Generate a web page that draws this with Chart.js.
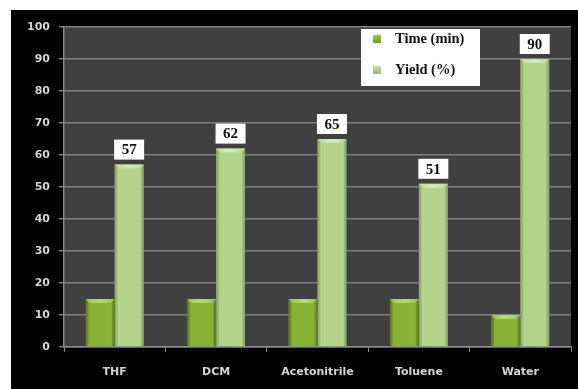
<!DOCTYPE html>
<html>
<head>
<meta charset="utf-8">
<script src="https://cdn.jsdelivr.net/npm/chart.js@4/dist/chart.umd.min.js"></script>
<style>
  html, body { margin: 0; padding: 0; background: #ffffff; }
  #wrap { width: 578px; height: 389px; position: relative; }
</style>
</head>
<body>
<div id="wrap"><canvas id="c" width="578" height="389"></canvas></div>
<script>
// Solvent screening results
const solvents = ['THF', 'DCM', 'Acetonitrile', 'Toluene', 'Water'];
const timeMin = [15, 15, 15, 15, 10];
const yieldPct = [57, 62, 65, 51, 90];
const yTicks = [0, 10, 20, 30, 40, 50, 60, 70, 80, 90, 100];

// Page frame: white margin, black panel, dark grey plot area
const framePlugin = {
  id: 'frame',
  beforeDraw(chart) {
    const { ctx, width, height, chartArea } = chart;
    ctx.save();
    ctx.fillStyle = '#ffffff';
    ctx.fillRect(0, 0, width, height);
    ctx.fillStyle = '#000000';
    ctx.fillRect(11, 10, width - 11, height - 10);
    ctx.fillStyle = '#404040';
    ctx.fillRect(chartArea.left, chartArea.top, chartArea.right - chartArea.left, chartArea.bottom - chartArea.top);
    ctx.restore();
  }
};

// Side shading and a bevelled top on every bar
const shadePlugin = {
  id: 'shade',
  afterDatasetsDraw(chart) {
    const { ctx } = chart;
    const looks = [
      { edge: 'rgba(60,80,10,0.55)', top: '#b9dc6a', topEdge: '#9cc24a' },
      { edge: 'rgba(90,110,60,0.40)', top: '#d6eab8', topEdge: '#c0da9c' }
    ];
    chart.data.datasets.forEach((ds, di) => {
      const meta = chart.getDatasetMeta(di);
      const lk = looks[di];
      meta.data.forEach((bar) => {
        const x0 = bar.x - bar.width / 2, x1 = bar.x + bar.width / 2;
        const y0 = bar.y, y1 = bar.base;
        ctx.save();
        const g = ctx.createLinearGradient(x0, 0, x1, 0);
        g.addColorStop(0, lk.edge);
        g.addColorStop(0.12, 'rgba(0,0,0,0)');
        g.addColorStop(0.88, 'rgba(0,0,0,0)');
        g.addColorStop(1, lk.edge);
        ctx.fillStyle = g;
        ctx.fillRect(x0, y0, x1 - x0, y1 - y0);
        const b = 4;
        ctx.beginPath();
        ctx.moveTo(x0, y0);
        ctx.lineTo(x1, y0);
        ctx.lineTo(x1 - b, y0 + b);
        ctx.lineTo(x0 + b, y0 + b);
        ctx.closePath();
        const tg = ctx.createLinearGradient(x0, 0, x1, 0);
        tg.addColorStop(0, lk.topEdge);
        tg.addColorStop(0.5, lk.top);
        tg.addColorStop(1, lk.topEdge);
        ctx.fillStyle = tg;
        ctx.fill();
        ctx.restore();
      });
    });
  }
};

// White value boxes above the yield bars
const valueBoxPlugin = {
  id: 'valueBoxes',
  afterDatasetsDraw(chart) {
    const { ctx } = chart;
    const meta = chart.getDatasetMeta(1);
    ctx.save();
    meta.data.forEach((bar, i) => {
      const w = 30, h = 20;
      const x = bar.x - w / 2;
      const y = bar.y - 5 - h;
      ctx.fillStyle = '#ffffff';
      ctx.fillRect(x, y, w, h);
      ctx.fillStyle = '#111111';
      ctx.font = 'bold 15px "Liberation Serif", "DejaVu Serif", serif';
      ctx.textAlign = 'center';
      ctx.textBaseline = 'middle';
      ctx.fillText(String(yieldPct[i]), bar.x, y + h / 2 + 1);
    });
    ctx.restore();
  }
};

// Legend box inside the plot area
const legendBoxPlugin = {
  id: 'legendBox',
  afterDraw(chart) {
    const { ctx } = chart;
    const bx = 361, by = 29, bw = 119, bh = 57;
    ctx.save();
    ctx.fillStyle = '#ffffff';
    ctx.fillRect(bx, by, bw, bh);
    const swatches = [
      ['#6e9a1e', '#9fcb45'],
      ['#9ab87a', '#c6dfa6']
    ];
    chart.data.datasets.forEach((ds, i) => {
      const cy = by + 10 + i * 31;
      const sx = bx + 12;
      const g = ctx.createLinearGradient(sx, cy - 4, sx, cy + 4);
      g.addColorStop(0, swatches[i][1]);
      g.addColorStop(1, swatches[i][0]);
      ctx.fillStyle = g;
      ctx.fillRect(sx, cy - 4, 8, 8);
      ctx.fillStyle = '#111111';
      ctx.font = 'bold 14.5px "Liberation Serif", "DejaVu Serif", serif';
      ctx.textAlign = 'left';
      ctx.textBaseline = 'middle';
      ctx.fillText(ds.label, bx + 34, cy);
    });
    ctx.restore();
  }
};

new Chart(document.getElementById('c'), {
  type: 'bar',
  data: {
    labels: solvents,
    datasets: [
      {
        label: 'Time (min)',
        data: timeMin,
        backgroundColor: '#88b234',
        borderWidth: 0,
        categoryPercentage: 0.57,
        barPercentage: 1.0
      },
      {
        label: 'Yield (%)',
        data: yieldPct,
        backgroundColor: '#b4d48c',
        borderWidth: 0,
        categoryPercentage: 0.57,
        barPercentage: 1.0
      }
    ]
  },
  options: {
    responsive: false,
    animation: false,
    devicePixelRatio: 1,
    layout: { padding: { left: 0, right: 7, top: 27, bottom: 0 } },
    plugins: {
      legend: { display: false },
      tooltip: { enabled: false }
    },
    scales: {
      x: {
        grid: { display: true, drawOnChartArea: false, color: '#8a8a8a', tickLength: 5, offset: true },
        border: { color: '#8a8a8a', width: 1.5 },
        ticks: {
          color: '#d4d4d4',
          font: { family: '"DejaVu Sans", sans-serif', weight: 'bold', size: 11 },
          padding: 14
        },
        afterFit(scale) { scale.height = 42; }
      },
      y: {
        min: 0,
        max: 100,
        afterBuildTicks(scale) { scale.ticks = yTicks.map(v => ({ value: v })); },
        grid: { color: '#7f7f7f', lineWidth: 1.5, tickLength: 5 },
        border: { color: '#8a8a8a', width: 1.5 },
        ticks: {
          color: '#d4d4d4',
          font: { family: '"DejaVu Sans", sans-serif', weight: 'bold', size: 11 },
          padding: 9
        },
        afterFit(scale) { scale.width = 64; }
      }
    }
  },
  plugins: [framePlugin, shadePlugin, valueBoxPlugin, legendBoxPlugin]
});
</script>
</body>
</html>
